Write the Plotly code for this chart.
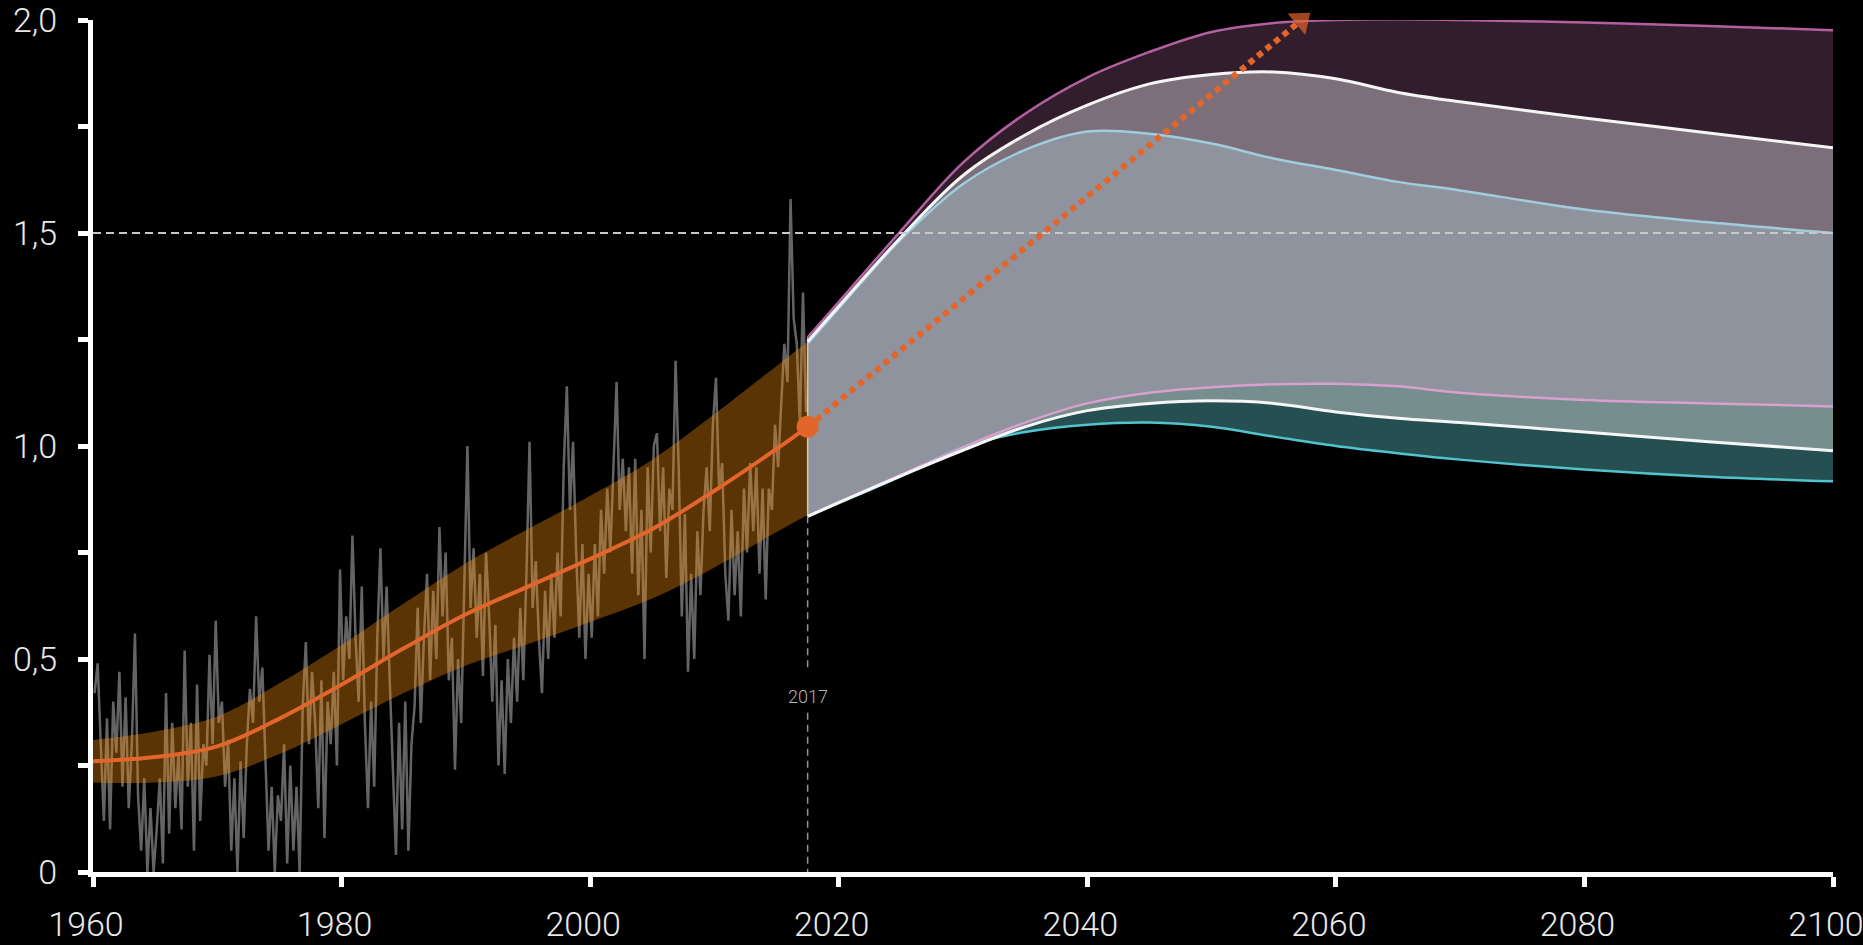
import plotly.graph_objects as go

# ---------------- data ----------------
# quarterly anomaly readings (gray trace), starting 1960 Q1
noise_start = 1960.125
noise_step = 0.25
noise = [
    0.42, 0.49, 0.30, 0.12,   # 1960
    0.36, 0.10, 0.40, 0.28,   # 1961
    0.47, 0.20, 0.41, 0.15,   # 1962
    0.30, 0.56, 0.18, 0.05,   # 1963
    0.22, 0.00, 0.15, 0.00,   # 1964
    0.10, 0.22, 0.02, 0.42,   # 1965
    0.09, 0.35, 0.15, 0.28,   # 1966
    0.10, 0.52, 0.20, 0.35,   # 1967
    0.05, 0.44, 0.12, 0.30,   # 1968
    0.25, 0.51, 0.30, 0.59,   # 1969
    0.35, 0.40, 0.20, 0.31,   # 1970
    0.05, 0.22, 0.00, 0.26,   # 1971
    0.08, 0.30, 0.43, 0.35,   # 1972
    0.60, 0.40, 0.48, 0.25,   # 1973
    0.05, 0.20, 0.00, 0.18,   # 1974
    0.12, 0.30, 0.02, 0.25,   # 1975
    0.05, 0.20, 0.00, 0.39,   # 1976
    0.54, 0.30, 0.47, 0.35,   # 1977
    0.15, 0.45, 0.08, 0.40,   # 1978
    0.30, 0.47, 0.25, 0.71,   # 1979
    0.45, 0.60, 0.50, 0.79,   # 1980
    0.55, 0.40, 0.67, 0.35,   # 1981
    0.15, 0.40, 0.20, 0.55,   # 1982
    0.76, 0.50, 0.67, 0.45,   # 1983
    0.25, 0.04, 0.35, 0.10,   # 1984
    0.40, 0.05, 0.30, 0.39,   # 1985
    0.62, 0.35, 0.55, 0.70,   # 1986
    0.45, 0.66, 0.50, 0.81,   # 1987
    0.60, 0.75, 0.45, 0.55,   # 1988
    0.24, 0.50, 0.35, 0.70,   # 1989
    1.00, 0.62, 0.76, 0.55,   # 1990
    0.70, 0.46, 0.75, 0.60,   # 1991
    0.40, 0.58, 0.25, 0.45,   # 1992
    0.23, 0.50, 0.35, 0.55,   # 1993
    0.40, 0.62, 0.45, 0.70,   # 1994
    1.01, 0.62, 0.73, 0.55,   # 1995
    0.42, 0.66, 0.50, 0.70,   # 1996
    0.55, 0.75, 0.60, 0.95,   # 1997
    1.14, 0.85, 1.01, 0.75,   # 1998
    0.55, 0.77, 0.50, 0.70,   # 1999
    0.55, 0.77, 0.60, 0.85,   # 2000
    0.70, 0.90, 0.75, 0.95,   # 2001
    1.15, 0.85, 0.97, 0.80,   # 2002
    0.95, 0.70, 0.97, 0.65,   # 2003
    0.85, 0.50, 0.95, 0.75,   # 2004
    1.00, 1.03, 0.80, 0.95,   # 2005
    0.69, 0.90, 0.85, 1.20,   # 2006
    0.95, 0.60, 0.84, 0.47,   # 2007
    0.70, 0.50, 0.80, 0.65,   # 2008
    0.85, 0.95, 0.80, 1.05,   # 2009
    1.16, 0.90, 0.96, 0.70,   # 2010
    0.59, 0.85, 0.65, 0.80,   # 2011
    0.60, 0.90, 0.75, 0.96,   # 2012
    0.80, 0.95, 0.70, 0.90,   # 2013
    0.64, 0.90, 0.85, 1.05,   # 2014
    0.95, 1.10, 1.24, 1.15,   # 2015
    1.58, 1.30, 1.24, 1.05,   # 2016
    1.36, 1.08,               # 2017
]

hist_years = [1960, 1965, 1970, 1975, 1980, 1985, 1990, 1995, 2000, 2005, 2010, 2015, 2017.5]
hist_smooth = [0.26, 0.27, 0.295, 0.36, 0.44, 0.525, 0.605, 0.67, 0.735, 0.805, 0.895, 0.993, 1.045]
hist_upper = [0.31, 0.33, 0.365, 0.443, 0.533, 0.63, 0.725, 0.805, 0.883, 0.968, 1.075, 1.188, 1.245]
hist_lower = [0.21, 0.21, 0.225, 0.277, 0.347, 0.42, 0.485, 0.535, 0.587, 0.642, 0.715, 0.798, 0.838]

proj_years = [2017.5, 2020, 2025, 2030, 2035, 2040, 2045, 2050, 2055, 2060, 2065, 2070, 2080, 2090, 2100]
proj_top_outer = [1.255, 1.338, 1.505, 1.665, 1.78, 1.865, 1.925, 1.972, 1.993, 2.0, 2.002, 2.0, 1.994, 1.986, 1.976]
proj_top_mid = [1.245, 1.328, 1.49, 1.635, 1.73, 1.80, 1.85, 1.872, 1.878, 1.862, 1.83, 1.808, 1.77, 1.735, 1.70]
proj_top_inner = [1.24, 1.323, 1.485, 1.615, 1.695, 1.738, 1.733, 1.71, 1.675, 1.648, 1.62, 1.60, 1.555, 1.525, 1.50]
proj_bot_inner = [0.835, 0.868, 0.932, 0.997, 1.055, 1.10, 1.125, 1.138, 1.145, 1.146, 1.14, 1.125, 1.108, 1.10, 1.093]
proj_bot_mid = [0.835, 0.867, 0.93, 0.99, 1.045, 1.083, 1.10, 1.106, 1.10, 1.08, 1.065, 1.055, 1.033, 1.01, 0.989]
proj_bot_outer = [0.835, 0.866, 0.929, 0.997, 1.033, 1.05, 1.055, 1.045, 1.022, 1.0, 0.983, 0.968, 0.945, 0.928, 0.917]

threshold = 1.5
marker_year = 2017.5
marker_value = 1.045
arrow_tip_year = 2057.2
arrow_tip_value = 1.999
vline_segments = [(0.835, 0.475), (0.374, 0.0)]
year_label = "2017"
year_label_value = 0.412

x_ticks = [1960, 1980, 2000, 2020, 2040, 2060, 2080, 2100]
y_ticks = [0, 0.25, 0.5, 0.75, 1.0, 1.25, 1.5, 1.75, 2.0]
y_ticktext = ["0", "", "0,5", "", "1,0", "", "1,5", "", "2,0"]

# ---------------- styles ----------------
ORANGE = "rgb(226,101,44)"
GRAY = "rgb(100,100,100)"
BAND = "rgba(243,140,13,0.37)"
FILL_BOT_OUTER = "rgb(38,79,82)"
FILL_BOT_MID = "rgb(119,142,142)"
FILL_CENTER = "rgb(142,147,158)"
FILL_TOP_MID = "rgb(125,111,121)"
FILL_TOP_OUTER = "rgb(50,29,45)"
C_MAGENTA = "rgb(178,96,160)"
C_WHITE = "rgb(245,245,245)"
C_LBLUE = "rgb(160,205,222)"
C_PINK = "rgb(215,160,205)"
C_TEAL = "rgb(80,195,205)"
TXT = "rgb(232,232,232)"
FONT = "Roboto"

fig = go.Figure()

noise_x = [noise_start + noise_step * i for i in range(len(noise))]
fig.add_trace(go.Scatter(x=noise_x, y=noise, mode="lines",
                         line=dict(color=GRAY, width=2.5), hoverinfo="skip"))

# historical uncertainty band
fig.add_trace(go.Scatter(x=hist_years, y=hist_lower, mode="lines",
                         line=dict(width=0, shape="spline"), hoverinfo="skip"))
fig.add_trace(go.Scatter(x=hist_years, y=hist_upper, mode="lines", fill="tonexty",
                         fillcolor=BAND, line=dict(width=0, shape="spline"), hoverinfo="skip"))

# projection fills (stacked bottom -> top)
fill_stack = [
    (proj_bot_outer, None),
    (proj_bot_mid, FILL_BOT_OUTER),
    (proj_bot_inner, FILL_BOT_MID),
    (proj_top_inner, FILL_CENTER),
    (proj_top_mid, FILL_TOP_MID),
    (proj_top_outer, FILL_TOP_OUTER),
]
for ys, fc in fill_stack:
    fig.add_trace(go.Scatter(x=proj_years, y=ys, mode="lines",
                             fill="tonexty" if fc else "none", fillcolor=fc,
                             line=dict(width=0, shape="spline"), hoverinfo="skip"))

# left edge of projection
fig.add_trace(go.Scatter(x=[proj_years[0], proj_years[0]],
                         y=[proj_bot_outer[0], proj_top_outer[0]], mode="lines",
                         line=dict(color="rgba(225,215,175,0.9)", width=1.5), hoverinfo="skip"))

# projection lines
for ys, col, w in [(proj_bot_outer, C_TEAL, 2.5), (proj_bot_inner, C_PINK, 2.5),
                   (proj_top_inner, C_LBLUE, 2.5), (proj_top_outer, C_MAGENTA, 2.5),
                   (proj_bot_mid, C_WHITE, 3), (proj_top_mid, C_WHITE, 3)]:
    fig.add_trace(go.Scatter(x=proj_years, y=ys, mode="lines", cliponaxis=False,
                             line=dict(color=col, width=w, shape="spline"), hoverinfo="skip"))

# smoothed historical line
fig.add_trace(go.Scatter(x=hist_years, y=hist_smooth, mode="lines",
                         line=dict(color=ORANGE, width=4, shape="spline"), hoverinfo="skip"))

# 1.5 threshold dashed line
fig.add_trace(go.Scatter(x=[x_ticks[0], x_ticks[-1]], y=[threshold, threshold], mode="lines",
                         line=dict(color="rgb(200,200,200)", width=2, dash="8px,5px"), hoverinfo="skip"))

# vertical dashed line at 2017
for y0, y1 in vline_segments:
    fig.add_trace(go.Scatter(x=[marker_year, marker_year], y=[y0, y1], mode="lines",
                             line=dict(color="rgb(150,150,150)", width=1.5, dash="7px,5px"),
                             hoverinfo="skip"))

# dotted arrow
fig.add_trace(go.Scatter(x=[marker_year, arrow_tip_year], y=[marker_value, arrow_tip_value],
                         mode="lines", line=dict(color=ORANGE, width=6, dash="6px,5px"),
                         hoverinfo="skip"))
fig.add_trace(go.Scatter(x=[marker_year, arrow_tip_year], y=[marker_value, arrow_tip_value],
                         mode="markers", cliponaxis=False,
                         marker=dict(symbol="triangle-up", size=[0, 24], angleref="previous",
                                     color=ORANGE, line=dict(width=0)),
                         hoverinfo="skip"))
fig.add_trace(go.Scatter(x=[marker_year], y=[marker_value], mode="markers", cliponaxis=False,
                         marker=dict(size=22, color=ORANGE, line=dict(width=0)), hoverinfo="skip"))

fig.add_annotation(x=marker_year, y=year_label_value, text=year_label, showarrow=False,
                   font=dict(family=FONT, size=18, color="rgb(180,180,180)"))

fig.update_layout(
    width=1863, height=945,
    margin=dict(l=93, r=30, t=20, b=73),
    paper_bgcolor="black", plot_bgcolor="black",
    showlegend=False,
    font=dict(family=FONT, color=TXT, size=34, weight=300),
)
fig.update_xaxes(range=[1960, 2100], showgrid=False, zeroline=False, automargin=False,
                 showline=True, linecolor="white", linewidth=5,
                 ticks="outside", ticklen=10, tickwidth=5, tickcolor="white",
                 tickvals=x_ticks, ticklabelstandoff=8, ticklabelshift=-7,
                 ticklabeloverflow="allow",
                 tickfont=dict(family=FONT, size=34, color=TXT, weight=300))
fig.update_yaxes(range=[0, 2], showgrid=False, zeroline=False, automargin=False,
                 showline=True, linecolor="white", linewidth=5,
                 ticks="outside", ticklen=10, tickwidth=5, tickcolor="white",
                 tickvals=y_ticks, ticktext=y_ticktext, ticklabelstandoff=14,
                 ticklabeloverflow="allow",
                 tickfont=dict(family=FONT, size=34, color=TXT, weight=300))

fig.write_html("out.html", config={"displayModeBar": False},
               post_script="document.body.style.margin='0';document.body.style.background='black';")
